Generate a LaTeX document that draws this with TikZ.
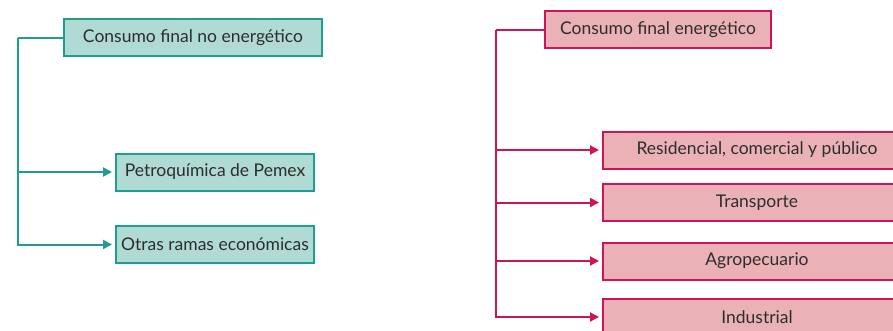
\documentclass[tikz,border=0pt]{standalone}
\usepackage{fontspec}
\setmainfont{Lato}
\usepackage{tikz}
\usetikzlibrary{arrows.meta,calc}
\definecolor{verdeborde}{RGB}{30,158,142}
\definecolor{verdefondo}{RGB}{176,218,212}
\definecolor{rojoborde}{RGB}{204,20,86}
\definecolor{rojofondo}{RGB}{234,178,182}
\definecolor{texto}{RGB}{45,45,45}
\tikzstyle{flecha}=[-{Triangle[length=9pt,width=9pt]}, shorten >=3pt, line width=2pt]

\begin{document}
\begin{tikzpicture}[x=1pt,y=-1pt,
          verde/.style={rectangle,draw=verdeborde,fill=verdefondo,line width=2pt,text=texto,
            minimum height=37pt,font=\fontsize{17.5}{19}\selectfont},
          rojo/.style={rectangle,draw=rojoborde,fill=rojofondo,line width=2pt,text=texto,
            minimum height=37pt,font=\fontsize{17.5}{19}\selectfont},
          hoja/.style={rojo,minimum width=308pt,anchor=west}]
        \useasboundingbox (0,0) rectangle (893,330);
        \clip (0,0) rectangle (893,330);
        % consumo no energetico
        \node [verde,minimum width=258pt] (noener) at (193,37.5) {Consumo final no energético};
        \node [verde,minimum width=198pt] (petro) at (215,172) {Petroquímica de Pemex};
        \node [verde,minimum width=198pt] (otras) at (215,244.5) {Otras ramas económicas};
        \coordinate (lesq) at (18,37.5);
        \draw [verdeborde,line width=2pt] (noener.west) -- (lesq);
        \draw [verdeborde,flecha] (lesq) |- (otras.west);
        \draw [verdeborde,flecha] (lesq |- petro.west) -- (petro.west);
        % consumo energetico
        \node [rojo,minimum width=226pt] (ener) at (658,29.5) {Consumo final energético};
        \node [hoja] (resid) at (602,150) {Residencial, comercial y público};
        \node [hoja] (transp) at (602,202.5) {Transporte};
        \node [hoja] (agro) at (602,261) {Agropecuario};
        \node [hoja] (indus) at (602,317) {Industrial};
        \coordinate (resq) at (496,29.5);
        \draw [rojoborde,line width=2pt] (ener.west) -- (resq);
        \draw [rojoborde,flecha] (resq) |- (indus.west);
        \foreach \n in {resid,transp,agro}
          \draw [rojoborde,flecha] (resq |- \n.west) -- (\n.west);
\end{tikzpicture}
\end{document}
